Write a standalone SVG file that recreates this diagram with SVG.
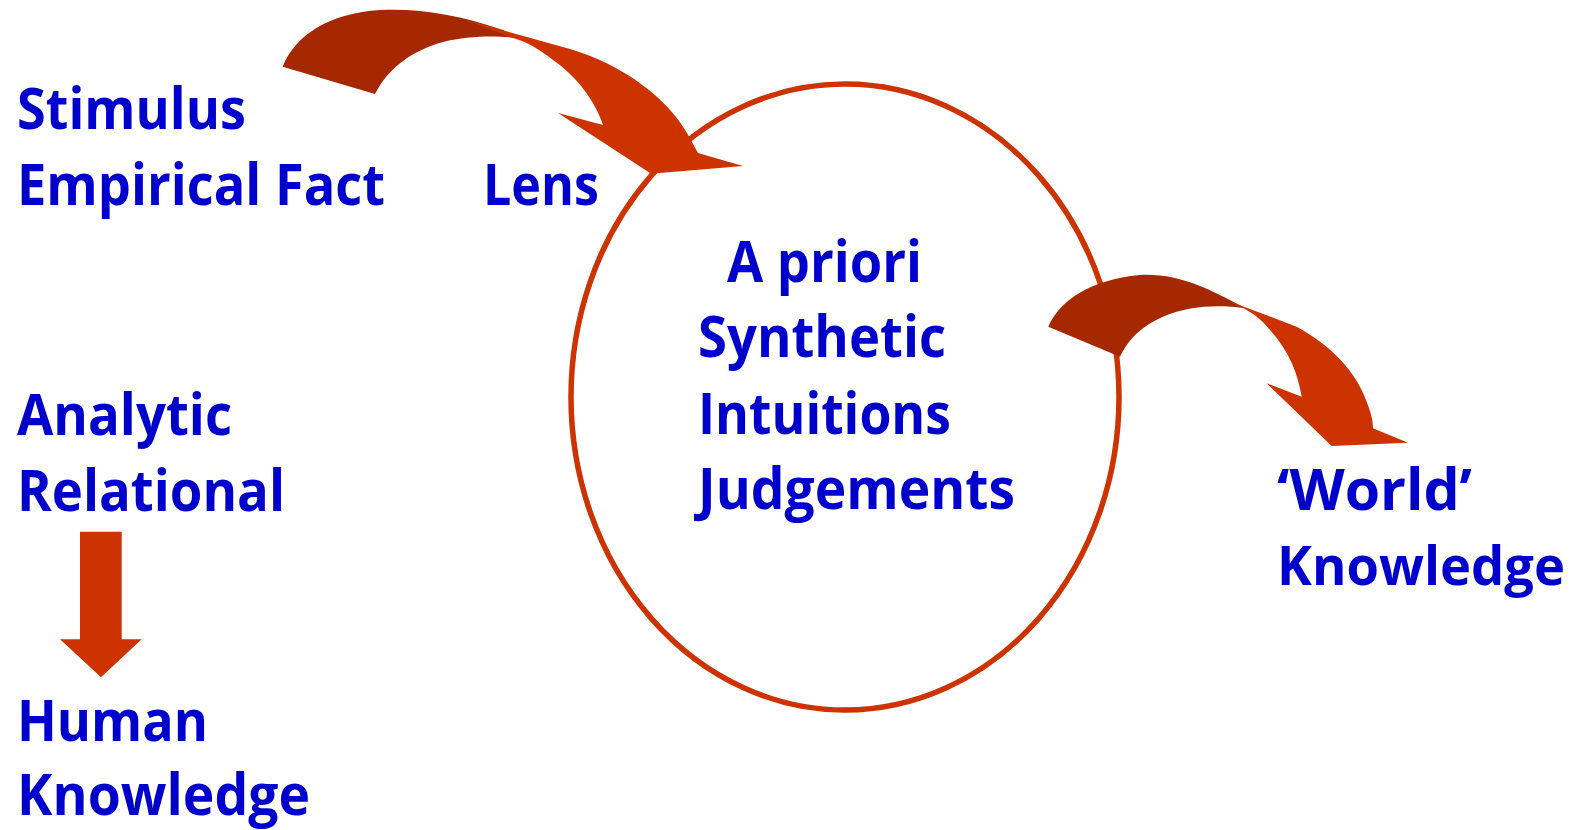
<svg xmlns="http://www.w3.org/2000/svg" width="1579" height="830" viewBox="0 0 1579 830">
<style>
text{font-family:"Open Sans","Noto Sans","Liberation Sans",sans-serif;font-weight:700;font-size:57px;fill:#0000CC}
.lt{fill:#CC3300}
.dk{fill:#A52800}
</style>
<rect width="1579" height="830" fill="#fff"/>
<g id="circle">
<ellipse cx="845" cy="397" rx="274" ry="313" fill="none" stroke="#CC3300" stroke-width="5.5"/>
</g>
<g id="connectors">
<g id="arrow-top">
<path class="dk" d="M282.7,66.7 C295,35 330,13 380,10 C420,8 460,15 503,30 L517,38 C500,36 470,35 443,42 C415,50 390,65 375,94 Z"/>
<path class="lt" d="M466,20 L570,49 C620,64 665,95 687,133 L698,153 L743,166 L660,173 L650,173 L558,113 L603,125 C595,100 575,75 553,60 C540,50 528,42 513,38 Z"/>
</g>
<g id="arrow-right">
<path class="dk" d="M1048.3,326.7 C1060,300 1090,280 1140,275 C1180,273 1210,290 1243,306.7 L1243,308 C1220,305 1190,305 1163,316.7 C1140,327 1128,340 1120,356.7 Z"/>
<path class="lt" d="M1228,300.7 L1296.7,326.7 C1330,345 1355,370 1366,400 C1371,413 1373,420 1373,428.3 L1408,442.7 L1331.7,446 L1266.7,383.3 L1301.7,396.7 C1298,375 1290,352 1270,330 C1262,320 1253,313 1243,308 Z"/>
</g>
<g id="arrow-down">
<path class="lt" d="M80,531.7 L121.7,531.7 L121.7,639.3 L141.7,639.3 L101,677.3 L60,639.3 L80,639.3 Z"/>
</g>
</g>
<g id="stimulus"><text x="17" y="129" textLength="229" lengthAdjust="spacingAndGlyphs">Stimulus</text>
<text x="17" y="205" textLength="368" lengthAdjust="spacingAndGlyphs">Empirical Fact</text></g>
<g id="lens"><text x="483" y="205" textLength="116" lengthAdjust="spacingAndGlyphs">Lens</text></g>
<g id="apriori">
<text x="727" y="282" textLength="195" lengthAdjust="spacingAndGlyphs">A priori</text>
<text x="698" y="357" textLength="248" lengthAdjust="spacingAndGlyphs">Synthetic</text>
<text x="698" y="434" textLength="253" lengthAdjust="spacingAndGlyphs">Intuitions</text>
<text x="698" y="509" textLength="317" lengthAdjust="spacingAndGlyphs">Judgements</text>
</g>
<g id="analytic">
<text x="17" y="435" textLength="215" lengthAdjust="spacingAndGlyphs">Analytic</text>
<text x="17" y="511" textLength="268" lengthAdjust="spacingAndGlyphs">Relational</text>
</g>
<g id="human">
<text x="17" y="741" textLength="191" lengthAdjust="spacingAndGlyphs">Human</text>
<text x="17" y="815" textLength="293" lengthAdjust="spacingAndGlyphs">Knowledge</text>
</g>
<g id="world">
<text x="1277" y="510" textLength="195" lengthAdjust="spacingAndGlyphs">‘World’</text>
<text x="1277" y="585" style="font-size:54px" textLength="288" lengthAdjust="spacingAndGlyphs">Knowledge</text>
</g>
</svg>
